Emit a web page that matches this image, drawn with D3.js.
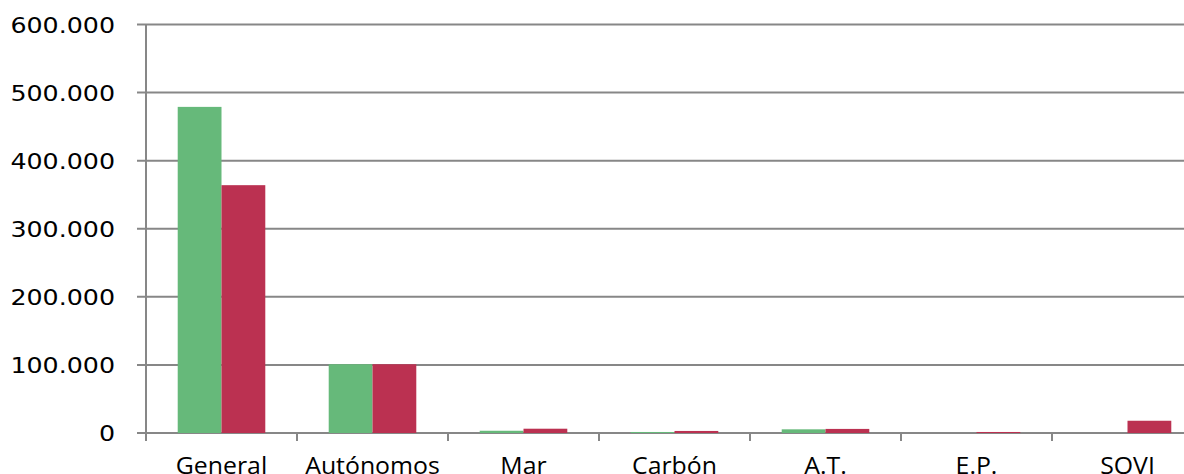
<!DOCTYPE html>
<html>
<head>
<meta charset="utf-8">
<script src="https://cdn.jsdelivr.net/npm/d3@7"></script>
<style>
  body { margin: 0; background: #fff; overflow: hidden; }
  text { font-family: "DejaVu Sans", Verdana, sans-serif; fill: #000; }
  .xlab { font-family: "Open Sans", "DejaVu Sans", sans-serif; }
</style>
</head>
<body>
<svg id="chart"></svg>
<script>
// categories and series
var categories = ["General", "Autónomos", "Mar", "Carbón", "A.T.", "E.P.", "SOVI"];
var seriesA = [479000, 101000, 3300, 1500, 5400, 0, 0];       // green
var seriesB = [364000, 101000, 6300, 3000, 6000, 1500, 18000]; // red
var yTicks = [0, 100000, 200000, 300000, 400000, 500000, 600000];

var width = 1184, height = 474,
    margin = {top: 24.5, right: -19, bottom: 41, left: 146};
var innerWidth = width - margin.left - margin.right,
    innerHeight = height - margin.top - margin.bottom;

var colors = ["#66b97a", "#bb3151"];
var gridColor = "#878787";

var locale = d3.formatLocale({decimal: ",", thousands: ".", grouping: [3], currency: ["", ""]});
var fmt = locale.format(",d");

var svg = d3.select("#chart").attr("width", width).attr("height", height);
var g = svg.append("g").attr("transform", "translate(" + margin.left + "," + margin.top + ")");

/*********** scales ***********/
var x = d3.scaleBand().domain(categories).range([0, innerWidth]).paddingInner(0.42).paddingOuter(0.21);
var x1 = d3.scaleBand().domain([0, 1]).range([0, x.bandwidth()]);
var y = d3.scaleLinear().domain([0, 600000]).range([innerHeight, 0]);

/*********** gridlines + y labels ***********/
g.append("g").selectAll("line").data(yTicks).enter().append("line")
  .attr("x1", -9).attr("x2", innerWidth)
  .attr("y1", function(d) { return y(d); }).attr("y2", function(d) { return y(d); })
  .attr("stroke", gridColor).attr("stroke-width", 2);

g.append("g").selectAll("text").data(yTicks).enter().append("text")
  .attr("transform", function(d) { return "translate(-31," + (y(d) + 8) + ") scale(1.15,1)"; })
  .attr("text-anchor", "end")
  .style("font-size", "22px")
  .text(function(d) { return fmt(d); });

/*********** bars ***********/
var data = categories.map(function(c, i) { return {cat: c, vals: [seriesA[i], seriesB[i]]}; });
var groups = g.append("g").selectAll("g").data(data).enter().append("g")
  .attr("transform", function(d) { return "translate(" + x(d.cat) + ",0)"; });
groups.selectAll("rect").data(function(d) { return d.vals; }).enter().append("rect")
  .attr("x", function(d, i) { return x1(i); })
  .attr("width", x1.bandwidth())
  .attr("y", function(d) { return y(d); })
  .attr("height", function(d) { return innerHeight - y(d); })
  .attr("fill", function(d, i) { return colors[i]; });

/*********** axes ***********/
g.append("line").attr("x1", 0).attr("x2", 0).attr("y1", 0).attr("y2", innerHeight + 8)
  .attr("stroke", gridColor).attr("stroke-width", 2);

var step = x.step();
g.append("g").selectAll("line").data(d3.range(categories.length + 1)).enter().append("line")
  .attr("x1", function(i) { return i * step; }).attr("x2", function(i) { return i * step; })
  .attr("y1", innerHeight).attr("y2", innerHeight + 8)
  .attr("stroke", gridColor).attr("stroke-width", 2);

g.append("g").selectAll("text").data(categories).enter().append("text")
  .attr("class", "xlab")
  .attr("transform", function(d) { return "translate(" + (x(d) + x.bandwidth() / 2) + "," + (innerHeight + 41) + ") scale(1.08,1)"; })
  .attr("text-anchor", "middle")
  .style("font-size", "23px")
  .text(function(d) { return d; });
</script>
</body>
</html>
